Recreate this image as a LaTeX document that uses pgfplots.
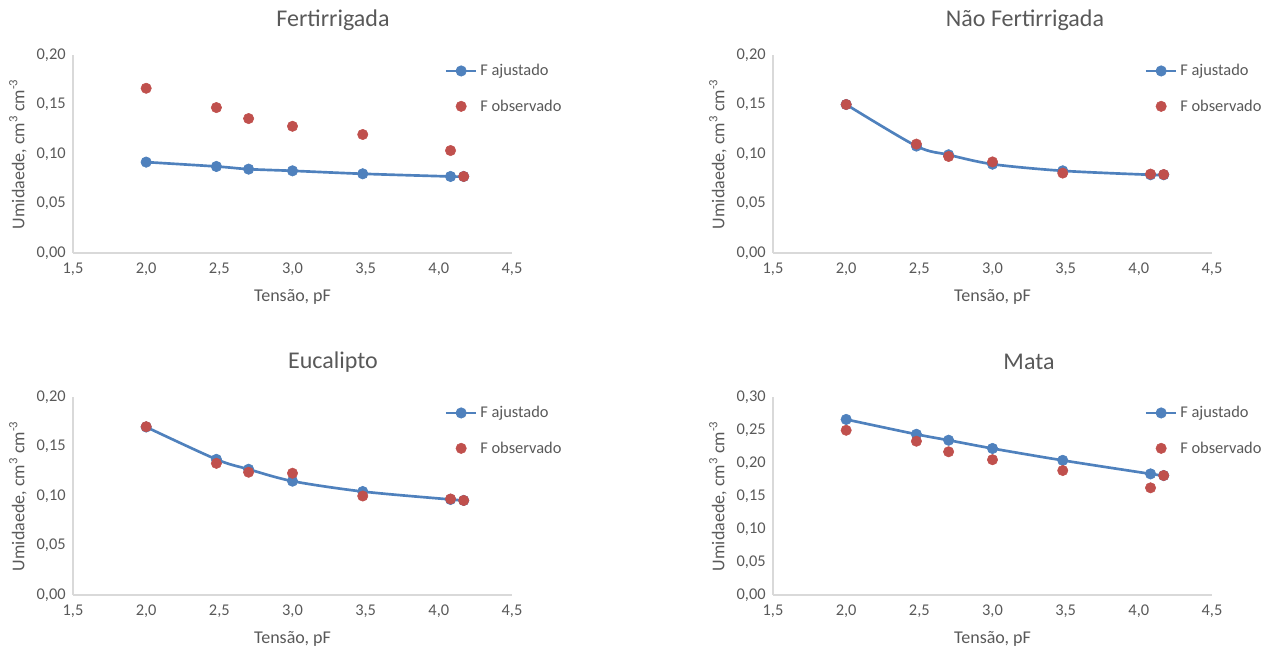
\documentclass[border=0pt]{standalone}
\usepackage{fontspec}
\setmainfont{Carlito}
\usepackage{pgfplots}
\pgfplotsset{compat=1.18}
\definecolor{txt}{HTML}{595959}
\definecolor{axl}{HTML}{D9D9D9}
\definecolor{bl}{HTML}{4F81BD}
\definecolor{rd}{HTML}{C0504D}

\pgfplotstableread{
x     fit     obs
2.00  0.0918  0.1664
2.48  0.0874  0.1469
2.70  0.0847  0.1358
3.00  0.0830  0.1280
3.48  0.0800  0.1197
4.08  0.0773  0.1035
4.17  0.0773  0.0773
}\fert
\pgfplotstableread{
x     fit     obs
2.00  0.1500  0.1500
2.48  0.1080  0.1100
2.70  0.0992  0.0975
3.00  0.0897  0.0920
3.48  0.0830  0.0807
4.08  0.0790  0.0797
4.17  0.0790  0.0793
}\naofert
\pgfplotstableread{
x     fit     obs
2.00  0.1697  0.1700
2.48  0.1370  0.1330
2.70  0.1270  0.1240
3.00  0.1150  0.1230
3.48  0.1045  0.1000
4.08  0.0965  0.0970
4.17  0.0955  0.0955
}\euca
\pgfplotstableread{
x     fit     obs
2.00  0.2660  0.2496
2.48  0.2435  0.2330
2.70  0.2345  0.2170
3.00  0.2220  0.2050
3.48  0.2040  0.1886
4.08  0.1835  0.1624
4.17  0.1810  0.1810
}\mata

\pgfplotsset{
  panel/.style={
    scale only axis, width=329.25pt, height=148.5pt,
    xmin=1.5, xmax=4.5, ymin=0,
    xtick={1.5,2.0,2.5,3.0,3.5,4.0,4.5},
    axis x line*=bottom, axis y line*=left,
    axis line style={axl, line width=0.8pt, -},
    major tick length=0pt,
    tick label style={font=\fontsize{12.3}{14}\selectfont, text=txt},
    /pgf/number format/assume math mode=true,
    xticklabel style={/pgf/number format/.cd, fixed, fixed zerofill, precision=1, use comma, /tikz/.cd, yshift=-4pt},
    yticklabel style={/pgf/number format/.cd, fixed, fixed zerofill, precision=2, use comma, /tikz/.cd, xshift=-2pt},
    xlabel={Tensão, pF},
    ylabel={Umidaede, cm\textsuperscript{3} cm\textsuperscript{-3}},
    every axis x label/.style={at={(axis description cs:0.5,-0.222)}, anchor=center, font=\fontsize{13.5}{15}\selectfont, text=txt},
    every axis y label/.style={at={(axis description cs:-0.1253,0.5)}, rotate=90, anchor=center, font=\fontsize{13.5}{15}\selectfont, text=txt},
    legend style={at={(axis description cs:0.846,0.968)}, anchor=north west, draw=none, fill=none,
      font=\fontsize{12.3}{14}\selectfont, text=txt, row sep=12.5pt, inner sep=0pt},
    legend cell align=left,
    legend image code/.code={\draw[mark repeat=2, mark phase=2, #1] plot coordinates {(0cm,0cm) (0.4cm,0cm) (0.8cm,0cm)};},
    clip=false,
  },
  fitline/.style={bl, line width=2pt, smooth, tension=0.5, mark=*, mark size=3.9pt, mark options={fill=bl, draw=bl, line width=0.5pt}},
  obspts/.style={only marks, mark=*, mark size=3.9pt, mark options={fill=rd, draw=rd}},
}

\begin{document}
\begin{tikzpicture}
\useasboundingbox (0,0) rectangle (956.25pt,489.75pt);

\node[font=\fontsize{18}{21}\selectfont, text=txt] at (249.75pt,474.75pt) {Fertirrigada};
\node[font=\fontsize{18}{21}\selectfont, text=txt] at (768.75pt,474.75pt) {Não Fertirrigada};
\node[font=\fontsize{18}{21}\selectfont, text=txt] at (249.75pt,218.25pt) {Eucalipto};
\node[font=\fontsize{18}{21}\selectfont, text=txt] at (771.75pt,218.25pt) {Mata};

\begin{axis}[panel, at={(54.75pt,300pt)}, anchor=south west, ymax=0.20, ytick={0,0.05,0.10,0.15,0.20}]
\addplot[fitline] table[x=x, y=fit] {\fert};
\addlegendentry{F ajustado}
\addplot[obspts] table[x=x, y=obs] {\fert};
\addlegendentry{F observado}
\end{axis}

\begin{axis}[panel, at={(579.75pt,300pt)}, anchor=south west, ymax=0.20, ytick={0,0.05,0.10,0.15,0.20}]
\addplot[fitline] table[x=x, y=fit] {\naofert};
\addlegendentry{F ajustado}
\addplot[obspts] table[x=x, y=obs] {\naofert};
\addlegendentry{F observado}
\end{axis}

\begin{axis}[panel, at={(54.75pt,43.5pt)}, anchor=south west, ymax=0.20, ytick={0,0.05,0.10,0.15,0.20}]
\addplot[fitline] table[x=x, y=fit] {\euca};
\addlegendentry{F ajustado}
\addplot[obspts] table[x=x, y=obs] {\euca};
\addlegendentry{F observado}
\end{axis}

\begin{axis}[panel, at={(579.75pt,43.5pt)}, anchor=south west, ymax=0.30, ytick={0,0.05,0.10,0.15,0.20,0.25,0.30}]
\addplot[fitline] table[x=x, y=fit] {\mata};
\addlegendentry{F ajustado}
\addplot[obspts] table[x=x, y=obs] {\mata};
\addlegendentry{F observado}
\end{axis}
\end{tikzpicture}
\end{document}
